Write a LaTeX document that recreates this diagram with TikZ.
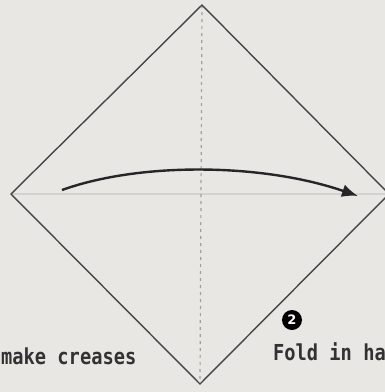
\documentclass[tikz,border=0pt]{standalone}
\usepackage{fontspec}
\usetikzlibrary{arrows.meta}
\newfontfamily\labelfont[FakeStretch=0.85]{DejaVu Sans Mono}
\newfontfamily\numfont{DejaVu Sans}
\definecolor{bg}{RGB}{233,231,228}
\definecolor{edge}{RGB}{70,70,70}
\definecolor{crease}{RGB}{160,160,160}
\definecolor{hcrease}{RGB}{212,210,207}
\definecolor{txt}{RGB}{50,50,50}
\tikzset{
  paper/.style={draw=edge, line width=1.4pt, line join=miter},
  vcrease/.style={draw=crease, line width=1.2pt, dash pattern=on 3pt off 4pt},
  hline/.style={draw=hcrease, line width=1.2pt},
  foldarrow/.style={draw=black!85, line width=2.4pt, -{Latex[length=16pt,width=13pt]}},
  caption/.style={anchor=base west, inner sep=0pt, text=txt, font=\labelfont\bfseries\fontsize{22}{26}\selectfont},
  stepnum/.style={circle, fill=black, text=white, minimum size=20pt, inner sep=0pt, font=\numfont\bfseries\fontsize{13}{15}\selectfont}
}
\begin{document}
\begin{tikzpicture}[x=1pt,y=-1pt]
\fill[bg] (0,0) rectangle (385,392);
\useasboundingbox (0,0) rectangle (385,392);
\coordinate (T) at (202,5);
\coordinate (R) at (389,194);
\coordinate (B) at (200,384);
\coordinate (L) at (11,194);
\draw[hline] (L) -- (R);
\draw[vcrease] (T) -- (B);
\draw[paper] (T) -- (R) -- (B) -- (L) -- cycle;
\coordinate (as) at (62,190);
\coordinate (ae) at (358,196);
\draw[foldarrow] (as) .. controls (140,162) and (262,163) .. (ae);
\node[stepnum] (n2) at (292,320) {2};
\node[caption] (c1) at (1,364) {make creases};
\node[caption] (c2) at (273,360) {Fold in ha};
\end{tikzpicture}
\end{document}
